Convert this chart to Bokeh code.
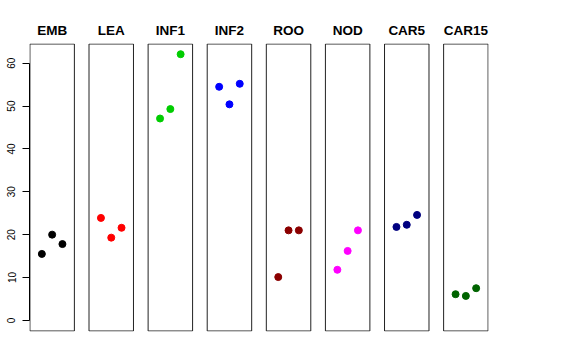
from bokeh.plotting import figure
from bokeh.models import Range1d, LinearAxis, FixedTicker
from bokeh.embed import file_html
from bokeh.resources import INLINE

# ---- data ----
groups = ["EMB", "LEA", "INF1", "INF2", "ROO", "NOD", "CAR5", "CAR15"]
colors = ["#000000", "#FF0000", "#00CD00", "#0000FF", "#8B0000", "#FF00FF", "#000080", "#006400"]
rep_index = [1, 2, 3]
values = {
    "EMB":   [15.5, 20.0, 17.8],
    "LEA":   [23.9, 19.3, 21.6],
    "INF1":  [47.1, 49.3, 62.1],
    "INF2":  [54.5, 50.4, 55.2],
    "ROO":   [10.1, 21.0, 21.0],
    "NOD":   [11.8, 16.2, 21.0],
    "CAR5":  [21.8, 22.3, 24.6],
    "CAR15": [6.1, 5.7, 7.5],
}
y_ticks = [0, 10, 20, 30, 40, 50, 60]

# ---- layout parameters ----
D = 5.742          # panel offset in data units
xpad_lo, xpad_hi = -0.16, 4.16
ylo, yhi = -2.48, 64.48
n = len(groups)

p = figure(width=568, height=352, output_backend="svg", toolbar_location=None,
           x_range=Range1d(-0.2, (n - 1) * D + 4.2),
           y_range=Range1d(-2.6, 64.6),
           x_axis_type=None, y_axis_type=None,
           min_border_left=29, min_border_right=80,
           min_border_top=43, min_border_bottom=21)
p.grid.visible = False
p.outline_line_color = None
p.background_fill_color = "white"

# panel boxes
lefts = [i * D + xpad_lo for i in range(n)]
rights = [i * D + xpad_hi for i in range(n)]
p.quad(left=lefts, right=rights, bottom=[ylo] * n, top=[yhi] * n,
       fill_color=None, line_color="#222222", line_width=1)

# points
for i, g in enumerate(groups):
    xs = [i * D + r for r in rep_index]
    p.scatter(xs, values[g], size=7, color=colors[i], line_color=colors[i])

# left y axis
yax = LinearAxis(ticker=FixedTicker(ticks=y_ticks), bounds=(0, 60))
yax.major_tick_out = 7
yax.major_tick_in = 0
yax.minor_tick_line_color = None
yax.axis_line_color = "black"
yax.major_tick_line_color = "black"
yax.major_label_orientation = "vertical"
yax.major_label_standoff = 7
yax.major_label_text_font = "Liberation Sans"
yax.major_label_text_font_size = "10px"
yax.major_label_text_color = "black"
p.add_layout(yax, "left")

# panel titles as an above axis
centers = [i * D + 2 for i in range(n)]
tax = LinearAxis(ticker=FixedTicker(ticks=centers),
                 major_label_overrides={c: g for c, g in zip(centers, groups)})
tax.axis_line_color = None
tax.major_tick_line_color = None
tax.minor_tick_line_color = None
tax.major_tick_out = 0
tax.major_tick_in = 0
tax.major_label_standoff = 6
tax.major_label_text_font = "Liberation Sans"
tax.major_label_text_font_style = "bold"
tax.major_label_text_font_size = "13.5px"
tax.major_label_text_color = "black"
p.add_layout(tax, "above")

open("out.html", "w").write(file_html(p, INLINE))
